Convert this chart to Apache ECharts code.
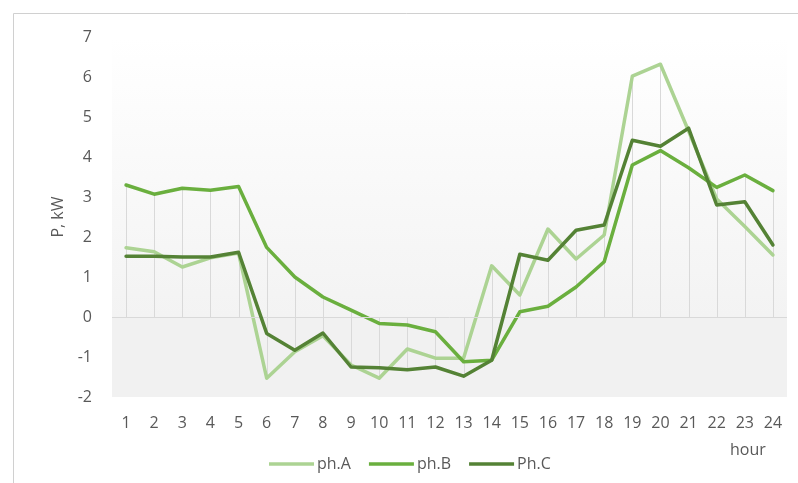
<!DOCTYPE html>
<html>
<head>
<meta charset="utf-8">
<script src="https://cdn.jsdelivr.net/npm/echarts@6/dist/echarts.min.js"></script>
<style>
  html, body { margin: 0; padding: 0; background: #fff; }
  #chart { width: 798px; height: 483px; }
</style>
</head>
<body>
<div id="chart"></div>
<script>
(function () {
    // hours on the x axis
    let hours = ['1', '2', '3', '4', '5', '6', '7', '8', '9', '10', '11', '12',
        '13', '14', '15', '16', '17', '18', '19', '20', '21', '22', '23', '24']

    // power per phase, kW
    let phA = [1.73, 1.63, 1.25, 1.48, 1.6, -1.53, -0.87, -0.47, -1.2, -1.53, -0.8, -1.03,
        -1.03, 1.28, 0.55, 2.2, 1.45, 2.05, 6.02, 6.32, 4.65, 2.95, 2.26, 1.55]
    let phB = [3.3, 3.07, 3.22, 3.17, 3.26, 1.74, 1.0, 0.5, 0.17, -0.16, -0.2, -0.37,
        -1.12, -1.08, 0.13, 0.27, 0.75, 1.38, 3.8, 4.16, 3.73, 3.24, 3.55, 3.16]
    let phC = [1.52, 1.52, 1.5, 1.5, 1.62, -0.41, -0.83, -0.4, -1.25, -1.27, -1.32, -1.25,
        -1.48, -1.08, 1.57, 1.42, 2.17, 2.3, 4.42, 4.27, 4.72, 2.8, 2.88, 1.8]

    let seriesNames = ['ph.A', 'ph.B', 'Ph.C']
    let colors = ['#acd393', '#6aaf3e', '#548235']

    let yMin = -2
    let yMax = 7
    let yStep = 1

    // drop lines: from the axis (0) to the farthest point of all phases
    let dropData = hours.map((h, i) => {
        let vals = [phA[i], phB[i], phC[i], 0]
        return [i, Math.min.apply(null, vals), Math.max.apply(null, vals)]
    })

    let textColor = '#595959'
    let font = 'Open Sans'

    let chart = echarts.init(document.getElementById('chart'))

    let lineSeries = [phA, phB, phC].map((d, i) => ({
        name: seriesNames[i],
        type: 'line',
        data: d,
        symbol: 'none',
        z: 3 + i,
        lineStyle: { width: 3.5, color: colors[i], cap: 'round', join: 'round' },
        itemStyle: { color: colors[i] }
    }))

    let option = {
        backgroundColor: '#fff',
        animation: false,
        textStyle: { fontFamily: font },
        graphic: [
            {
                type: 'rect',
                shape: { x: 13.5, y: 13.5, width: 800, height: 500 },
                style: { fill: 'none', stroke: '#d0d0d0', lineWidth: 1 },
                silent: true,
                z: 100
            },
            {
                type: 'text',
                left: 730,
                top: 442,
                style: { text: 'hour', fill: textColor, font: '16px "Open Sans"' },
                silent: true
            }
        ],
        grid: {
            left: 112,
            right: 11,
            top: 37,
            bottom: 86,
            show: true,
            borderWidth: 0,
            backgroundColor: new echarts.graphic.LinearGradient(0, 0, 0, 1, [
                { offset: 0, color: '#ffffff' },
                { offset: 0.777, color: '#f3f3f3' },
                { offset: 0.779, color: '#f1f1f1' },
                { offset: 1, color: '#f1f1f1' }
            ])
        },
        legend: {
            data: seriesNames,
            left: 264,
            top: 451,
            icon: 'rect',
            itemWidth: 45,
            itemHeight: 3.5,
            itemGap: 18,
            textStyle: { color: textColor, fontSize: 16, fontFamily: font, padding: [0, 0, 0, -2] }
        },
        xAxis: {
            type: 'category',
            data: hours,
            boundaryGap: true,
            axisLine: { show: false },
            axisTick: { show: false },
            axisLabel: { color: textColor, fontSize: 16, margin: 18, interval: 0 },
            splitLine: { show: false }
        },
        yAxis: {
            type: 'value',
            min: yMin,
            max: yMax,
            interval: yStep,
            name: 'P, kW',
            nameLocation: 'middle',
            nameGap: 46,
            nameTextStyle: { color: textColor, fontSize: 16 },
            axisLine: { show: false },
            axisTick: { show: false },
            axisLabel: { color: textColor, fontSize: 16, margin: 20 },
            splitLine: { show: false }
        },
        series: [
            {
                type: 'custom',
                name: 'drop',
                data: dropData,
                encode: { x: 0, y: [1, 2] },
                z: 1,
                silent: true,
                renderItem: function (params, api) {
                    let lo = api.coord([api.value(0), api.value(1)])
                    let hi = api.coord([api.value(0), api.value(2)])
                    let x = Math.round(lo[0]) + 0.5
                    return {
                        type: 'line',
                        shape: { x1: x, y1: lo[1], x2: x, y2: hi[1] },
                        style: { stroke: '#d9d9d9', lineWidth: 1 }
                    }
                },
                markLine: {
                    silent: true,
                    symbol: 'none',
                    label: { show: false },
                    lineStyle: { color: '#d9d9d9', width: 1, type: 'solid' },
                    data: [{ yAxis: 0 }]
                }
            }
        ].concat(lineSeries)
    }

    chart.setOption(option)
    window.addEventListener('resize', function () {
        chart.resize()
    })
})()
</script>
</body>
</html>
